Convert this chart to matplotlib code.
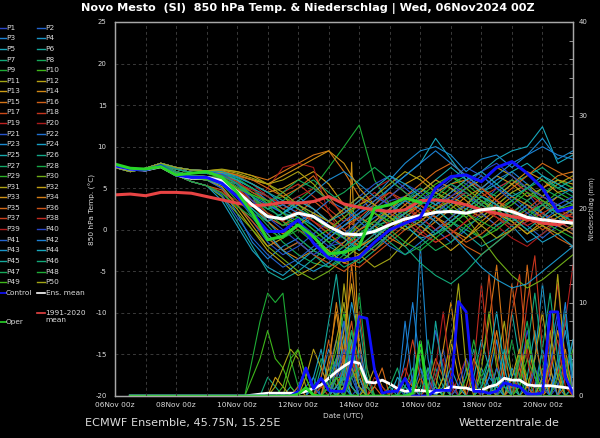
import numpy as np
import matplotlib
matplotlib.use("Agg")
import matplotlib.pyplot as plt
from matplotlib.colors import LinearSegmentedColormap
from matplotlib.lines import Line2D

plt.rcParams['font.family'] = ['DejaVu Sans']
plt.rcParams['axes.unicode_minus'] = False

# ---------------- data ----------------
title = "Novo Mesto  (SI)  850 hPa Temp. & Niederschlag | Wed, 06Nov2024 00Z"
x_tick_days = [0, 2, 4, 6, 8, 10, 12, 14]
x_tick_labels = ["06Nov 00z", "08Nov 00z", "10Nov 00z", "12Nov 00z",
                 "14Nov 00z", "16Nov 00z", "18Nov 00z", "20Nov 00z"]
member_names = [f"P{i}" for i in range(1, 51)]

# temperature, 12-hourly, day 0 .. day 15
ens_mean_temp = [7.7, 7.3, 7.2, 7.6, 6.6, 6.2, 6.3, 5.9, 4.6, 3.0, 1.6, 1.3, 2.0, 1.6, 0.4, -0.5,
                 -0.6, -0.2, 0.6, 1.3, 1.7, 2.1, 2.2, 2.0, 2.4, 2.6, 2.2, 1.5, 1.2, 1.0, 0.8]
clim_temp = [4.2, 4.3, 4.1, 4.5, 4.5, 4.4, 4.0, 3.6, 3.2, 2.9, 3.0, 3.3, 3.2, 3.4, 4.0, 3.1,
             2.7, 2.4, 2.2, 2.4, 3.5, 3.6, 3.4, 3.0, 2.4, 2.0, 1.6, 1.3, 0.8, 0.6, 1.1]
control_temp = [7.7, 7.3, 7.2, 7.7, 6.6, 6.3, 6.3, 5.6, 4.0, 2.0, -0.2, -0.2, 1.2, -1.6, -3.4, -3.7,
                -3.3, -1.5, 0.0, 0.8, 1.5, 5.0, 6.4, 6.6, 5.8, 7.5, 8.2, 6.8, 5.0, 2.2, 2.7]
oper_temp = [7.9, 7.4, 7.3, 7.6, 6.6, 6.8, 7.0, 6.3, 4.5, 2.0, -1.2, -0.8, 0.6, -0.8, -2.9, -2.7,
             -2.0, 2.6, 3.0, 3.8, 3.3]

member_temp = [
    [7.7, 7.2, 7.3, 7.8, 7.0, 6.5, 6.4, 5.8, 4.5, 3.0, 1.5, 0.5, 1.0, -0.5, -2.0, -1.5, 0.5, 2.0, 3.5, 4.0, 3.0, 4.5, 5.5, 4.0, 3.0, 5.0, 6.0, 4.5, 2.0, 1.0, 2.5],
    [7.6, 7.1, 7.2, 7.9, 7.3, 6.9, 6.8, 6.5, 6.0, 5.0, 3.0, 2.0, 3.0, 2.0, 0.5, -1.0, -2.5, -1.0, 1.0, 2.5, 1.5, 0.0, -1.5, 0.0, 2.0, 3.5, 2.0, 0.5, -1.0, 0.5, 2.0],
    [7.8, 7.3, 7.1, 7.6, 6.8, 6.2, 6.0, 5.0, 2.0, -1.5, -3.5, -2.0, -1.0, -2.5, -3.5, -2.0, 0.0, 1.5, 2.5, 4.0, 5.0, 3.5, 2.0, 3.0, 4.5, 6.0, 7.0, 5.5, 3.0, 4.0, 5.0],
    [7.7, 7.2, 7.3, 7.8, 7.0, 6.5, 6.4, 6.0, 5.5, 4.0, 2.5, 3.0, 4.0, 2.5, 1.0, 0.0, -1.0, 0.5, 2.5, 1.0, -0.5, 1.5, 3.0, 4.5, 3.0, 2.0, 0.5, -1.5, -0.5, 1.0, 0.0],
    [7.5, 7.0, 7.4, 8.0, 7.5, 7.2, 7.1, 6.8, 6.0, 4.0, 1.0, -1.0, 0.5, 1.5, 0.0, -1.0, 1.0, 3.0, 5.0, 6.5, 8.0, 11.0, 8.5, 6.0, 7.0, 8.5, 9.5, 10.0, 12.4, 8.0, 9.0],
    [7.7, 7.3, 7.2, 7.7, 6.6, 5.8, 5.3, 4.0, 1.0, -2.0, -5.0, -6.0, -5.0, -3.5, -2.0, -3.0, -1.5, 0.5, 1.0, 2.0, 3.5, 2.5, 1.0, -0.5, -2.0, -1.0, 0.5, 2.0, 3.0, 1.5, 0.5],
    [7.6, 7.1, 7.2, 7.9, 7.3, 6.9, 6.8, 6.6, 5.8, 4.5, 3.5, 2.0, 1.5, 0.0, -1.5, -3.0, -4.0, -2.5, -0.5, 1.5, 3.0, 4.5, 5.5, 6.5, 5.0, 4.0, 5.5, 6.5, 7.5, 6.0, 5.0],
    [7.7, 7.2, 7.3, 7.8, 7.0, 6.5, 6.4, 6.2, 4.5, 2.5, 0.5, -1.5, -3.0, -4.0, -4.5, -3.0, -1.0, 0.0, 1.5, 0.5, -1.0, -2.5, -1.5, 0.5, 1.5, 3.0, 4.5, 3.5, 2.0, 1.0, 2.0],
    [7.8, 7.3, 7.1, 7.6, 6.8, 6.2, 6.0, 5.5, 3.5, 2.0, 1.0, 2.0, 3.5, 5.0, 7.5, 10.0, 12.6, 6.0, 3.0, 2.0, 3.5, 5.0, 6.5, 5.5, 4.0, 2.5, 3.5, 5.0, 4.0, 6.0, 5.0],
    [7.7, 7.2, 7.3, 7.8, 7.0, 6.5, 6.4, 6.5, 5.5, 4.5, 3.5, 4.0, 3.0, 1.5, 0.0, -1.0, 0.5, 2.0, 1.0, 0.0, 1.5, 3.0, 2.0, 0.5, -1.0, 0.0, 1.5, 3.0, 2.0, 0.5, 1.0],
    [7.5, 7.0, 7.4, 8.0, 7.5, 7.2, 7.1, 7.0, 6.5, 6.0, 5.5, 4.0, 2.5, 1.0, -0.5, -2.0, -3.0, -4.5, -3.5, -1.5, 0.5, 2.0, 3.5, 2.5, 1.5, 3.0, 4.5, 5.5, 4.0, 3.0, 2.0],
    [7.7, 7.3, 7.2, 7.7, 6.6, 5.8, 5.3, 4.5, 2.5, 0.0, -2.5, -4.0, -5.5, -4.5, -3.0, -1.5, 0.0, 1.0, 2.5, 4.0, 3.0, 1.5, 0.5, 2.0, 3.5, 2.5, 1.0, -0.5, 0.5, 1.5, 2.5],
    [7.6, 7.1, 7.2, 7.9, 7.3, 6.9, 6.8, 6.8, 6.5, 5.5, 4.5, 5.0, 6.0, 7.0, 5.5, 3.0, 1.0, 2.5, 4.0, 5.5, 6.5, 5.0, 4.0, 3.0, 5.0, 6.5, 5.5, 4.0, 5.0, 6.0, 5.5],
    [7.7, 7.2, 7.3, 7.8, 7.0, 6.5, 6.4, 6.0, 4.0, 2.0, -0.5, -2.5, -3.5, -2.5, -1.0, 0.5, 1.5, 0.5, -1.0, -2.0, -0.5, 1.0, 2.5, 4.0, 5.0, 3.5, 2.0, 1.0, 2.5, 4.0, 3.0],
    [7.5, 7.0, 7.4, 8.0, 7.5, 7.2, 7.1, 7.2, 7.0, 6.5, 6.0, 7.0, 8.0, 9.0, 9.5, 7.0, 4.0, 2.0, 0.5, 1.5, 3.0, 4.5, 5.5, 6.0, 4.5, 3.0, 2.0, 3.5, 5.0, 6.5, 7.0],
    [7.8, 7.3, 7.1, 7.6, 6.8, 6.2, 6.0, 5.5, 4.5, 3.0, 1.5, 0.5, 2.0, 3.5, 2.0, 0.0, -1.5, -2.5, -1.0, 0.5, 2.0, 1.0, -0.5, -2.0, -3.0, -1.5, 0.0, 1.5, 0.5, -1.0, -2.0],
    [7.6, 7.1, 7.2, 7.9, 7.3, 6.9, 6.8, 6.5, 5.5, 3.5, 2.0, 1.0, 0.0, -1.0, -2.5, -4.0, -4.5, -3.0, -1.5, 0.0, 1.0, 2.5, 4.0, 5.0, 3.5, 2.0, 1.0, 2.5, 4.0, 3.0, 2.0],
    [7.7, 7.2, 7.3, 7.8, 7.0, 6.5, 6.4, 6.3, 5.0, 3.5, 3.0, 4.5, 5.5, 4.0, 2.5, 1.0, 2.0, 3.5, 4.5, 3.0, 1.5, 0.0, 1.0, 2.5, 4.0, 5.0, 6.0, 4.5, 3.0, 2.0, 1.5],
    [7.5, 7.0, 7.4, 8.0, 7.5, 7.2, 7.1, 7.0, 6.5, 5.5, 4.0, 3.0, 2.0, 1.0, 0.0, 1.5, 3.0, 4.5, 3.0, 1.5, 0.0, -1.5, -0.5, 1.0, 2.0, 3.0, 1.5, 0.5, 1.5, 0.5, 1.0],
    [7.7, 7.3, 7.2, 7.7, 6.6, 5.8, 5.3, 4.5, 3.5, 3.0, 5.0, 7.5, 8.0, 7.5, 2.0, -1.0, -2.0, -0.5, 1.0, 2.5, 1.5, 0.0, 1.5, 3.0, 2.0, 0.5, -1.0, -2.0, -0.5, 1.0, 2.0],
    [7.8, 7.3, 7.1, 7.6, 6.8, 6.2, 6.0, 5.0, 3.0, 1.0, -1.5, -3.0, -2.0, -0.5, 1.0, 2.5, 4.0, 5.5, 6.5, 5.0, 3.5, 4.5, 6.0, 7.5, 6.5, 5.0, 4.0, 2.5, 1.5, 3.0, 4.0],
    [7.7, 7.2, 7.3, 7.8, 7.0, 6.5, 6.4, 6.0, 5.0, 4.0, 3.0, 2.0, 1.0, 2.0, 3.5, 2.5, 1.0, -0.5, -2.0, -3.0, -1.5, 0.0, 1.5, 3.0, 2.0, 0.5, 1.5, 3.0, 2.0, 0.5, -0.5],
    [7.6, 7.1, 7.2, 7.9, 7.3, 6.9, 6.8, 6.5, 6.0, 5.0, 3.5, 2.0, 3.0, 4.5, 6.0, 7.0, 5.5, 4.0, 6.0, 8.0, 9.5, 10.0, 9.0, 7.0, 8.5, 9.0, 7.5, 9.0, 11.0, 8.5, 9.5],
    [7.7, 7.3, 7.2, 7.7, 6.6, 5.8, 5.3, 3.5, 0.5, -2.5, -4.5, -5.5, -4.0, -2.5, -1.0, 0.5, 2.0, 3.0, 2.0, 0.5, -1.0, -0.5, 1.0, 2.5, 4.0, 3.0, 1.5, 0.0, -1.5, -0.5, -2.0],
    [7.5, 7.0, 7.4, 8.0, 7.5, 7.2, 7.1, 6.8, 6.0, 5.0, 4.0, 2.5, 1.5, 0.5, -1.0, -2.0, -0.5, 1.0, 2.5, 3.5, 4.5, 6.0, 7.5, 6.0, 4.5, 5.5, 7.0, 8.0, 6.5, 5.0, 6.0],
    [7.7, 7.2, 7.3, 7.8, 7.0, 6.5, 6.4, 5.8, 4.0, 1.5, -1.0, -2.5, -1.5, -3.0, -4.5, -3.5, -2.0, -0.5, 0.5, 2.0, 1.0, -0.5, 0.5, 2.0, 3.5, 2.5, 1.0, 2.0, 3.5, 2.0, 1.0],
    [7.8, 7.3, 7.1, 7.6, 6.8, 6.2, 6.0, 5.8, 4.5, 3.5, 2.5, 3.5, 5.0, 6.0, 4.5, 3.0, 1.5, 0.0, -1.5, -3.0, -2.0, -0.5, 1.0, 0.0, -1.0, 0.5, 2.0, 3.5, 5.0, 4.0, 3.0],
    [7.6, 7.1, 7.2, 7.9, 7.3, 6.9, 6.8, 6.7, 6.2, 5.0, 3.0, 1.0, -1.0, -2.5, -3.5, -2.5, -1.0, 0.5, 2.0, 3.5, 5.0, 4.0, 2.5, 1.5, 3.0, 4.5, 6.0, 5.0, 3.5, 2.5, 3.5],
    [7.7, 7.2, 7.3, 7.8, 7.0, 6.5, 6.4, 6.4, 5.5, 4.0, 2.0, 0.5, 1.5, 0.0, -1.5, -0.5, 1.0, 2.5, 1.5, 0.5, 2.0, 3.5, 5.0, 4.0, 2.5, 1.5, 0.5, 2.0, 3.0, 4.5, 3.5],
    [7.7, 7.3, 7.2, 7.7, 6.6, 5.8, 5.3, 4.0, 2.0, 0.0, -2.0, -3.5, -5.0, -6.0, -5.0, -3.5, -2.0, -1.0, 0.5, 2.0, 3.0, 4.5, 3.0, 1.5, -1.0, -3.5, -5.5, -7.0, -6.0, -4.5, -3.0],
    [7.5, 7.0, 7.4, 8.0, 7.5, 7.2, 7.1, 7.3, 7.0, 6.5, 5.5, 6.0, 7.0, 5.5, 3.5, 2.0, 3.0, 4.0, 5.5, 7.0, 6.0, 4.5, 3.5, 5.0, 6.0, 7.5, 6.5, 5.0, 4.0, 5.5, 6.5],
    [7.8, 7.3, 7.1, 7.6, 6.8, 6.2, 6.0, 5.2, 3.0, 0.5, -2.0, -1.0, 0.5, -1.0, -2.5, -4.0, -3.0, -1.5, 0.0, 1.5, 0.5, -1.0, -2.5, -1.0, 0.5, 2.0, 1.0, -0.5, 1.0, 2.0, 0.5],
    [7.6, 7.1, 7.2, 7.9, 7.3, 6.9, 6.8, 6.9, 6.6, 6.0, 5.5, 6.5, 7.5, 8.5, 9.5, 8.0, 5.0, 3.0, 1.5, 3.0, 4.5, 6.0, 5.0, 3.5, 2.0, 4.0, 5.5, 7.0, 6.0, 4.5, 5.0],
    [7.7, 7.2, 7.3, 7.8, 7.0, 6.5, 6.4, 6.2, 5.0, 3.0, 1.0, -0.5, 0.5, 2.0, 1.0, -0.5, -2.0, -1.0, 0.5, 2.0, 3.0, 1.5, 0.0, -1.0, 1.0, 2.5, 4.0, 3.0, 1.5, 0.5, -0.5],
    [7.5, 7.0, 7.4, 8.0, 7.5, 7.2, 7.1, 7.1, 6.6, 6.0, 5.0, 4.0, 5.0, 6.5, 4.0, 1.5, 0.0, 1.0, 2.5, 4.0, 5.5, 7.0, 8.0, 6.5, 5.0, 3.5, 5.0, 6.5, 8.0, 7.0, 6.0],
    [7.7, 7.3, 7.2, 7.7, 6.6, 5.8, 5.3, 4.8, 3.0, 1.0, -1.0, -2.5, -1.5, -3.0, -4.0, -5.0, -3.5, -2.0, -0.5, 1.0, 2.5, 1.5, 0.0, -1.5, -0.5, 1.0, 2.5, 1.5, 0.0, 1.0, 2.0],
    [7.6, 7.1, 7.2, 7.9, 7.3, 6.9, 6.8, 6.6, 5.8, 4.5, 3.5, 2.5, 3.5, 2.5, 1.0, 0.0, 1.5, 3.0, 4.5, 3.5, 2.0, 3.0, 4.5, 6.0, 5.0, 3.5, 2.5, 1.0, 2.0, 3.0, 2.0],
    [7.8, 7.3, 7.1, 7.6, 6.8, 6.2, 6.0, 5.6, 4.8, 3.5, 2.0, 1.0, 2.5, 1.0, -0.5, -2.0, -1.0, 0.5, 2.0, 1.0, -0.5, -1.5, -0.5, 1.0, 2.5, 1.5, 0.0, 1.0, 2.0, 1.0, 0.0],
    [7.7, 7.2, 7.3, 7.8, 7.0, 6.5, 6.4, 6.4, 5.6, 4.8, 4.0, 3.0, 4.0, 5.0, 3.5, 2.0, 3.5, 5.0, 6.0, 4.5, 3.0, 2.0, 3.5, 4.5, 3.0, 1.5, 0.5, 2.0, 3.5, 2.5, 1.5],
    [7.5, 7.0, 7.4, 8.0, 7.5, 7.2, 7.1, 6.7, 5.5, 3.5, 1.5, 0.0, -1.5, -3.0, -2.0, -0.5, 1.0, 2.5, 4.0, 5.5, 4.5, 3.0, 4.0, 5.5, 7.0, 8.0, 6.5, 5.0, 4.0, 3.0, 4.0],
    [7.7, 7.3, 7.2, 7.7, 6.6, 5.8, 5.3, 4.2, 1.5, -1.0, -3.0, -4.5, -3.5, -2.0, -0.5, 1.0, 2.5, 4.0, 3.0, 1.5, 0.5, 2.0, 3.5, 5.0, 6.5, 5.0, 3.5, 2.0, 1.0, 2.5, 3.5],
    [7.6, 7.1, 7.2, 7.9, 7.3, 6.9, 6.8, 6.8, 6.3, 5.5, 4.5, 3.0, 2.0, 0.5, -1.0, 0.5, 2.0, 3.5, 5.0, 6.5, 8.0, 9.5, 8.0, 6.5, 5.0, 6.5, 8.0, 9.0, 10.0, 9.0, 8.5],
    [7.7, 7.2, 7.3, 7.8, 7.0, 6.5, 6.4, 6.0, 4.5, 2.0, -0.5, -2.5, -4.0, -5.0, -4.0, -2.5, -1.0, 0.5, 2.0, 3.5, 2.5, 1.0, -0.5, -2.5, -4.5, -6.0, -7.0, -6.5, -5.0, -3.5, -2.0],
    [7.8, 7.3, 7.1, 7.6, 6.8, 6.2, 6.0, 5.4, 4.0, 2.5, 1.0, 2.0, 3.5, 2.5, 1.0, 2.0, 3.5, 5.0, 6.5, 5.5, 4.0, 3.0, 4.5, 6.0, 7.0, 5.5, 4.0, 5.0, 6.5, 5.5, 4.5],
    [7.5, 7.0, 7.4, 8.0, 7.5, 7.2, 7.1, 7.0, 6.4, 5.5, 4.5, 3.5, 2.5, 1.5, 0.5, -1.0, -2.5, -1.0, 0.5, 2.0, 3.5, 2.5, 1.0, 2.5, 4.0, 3.0, 1.5, 0.0, 1.5, 3.0, 2.0],
    [7.6, 7.1, 7.2, 7.9, 7.3, 6.9, 6.8, 6.5, 5.6, 4.0, 2.5, 1.5, 0.5, -1.5, -3.0, -4.5, -3.5, -2.0, -0.5, -2.0, -4.0, -5.5, -6.5, -5.0, -3.0, -1.5, 0.0, 1.5, 3.0, 2.0, 1.0],
    [7.7, 7.2, 7.3, 7.8, 7.0, 6.5, 6.4, 6.3, 5.2, 4.2, 3.2, 4.5, 6.0, 5.0, 3.5, 4.5, 6.0, 7.5, 6.0, 4.5, 3.0, 4.0, 5.5, 4.5, 3.0, 2.0, 3.5, 5.0, 6.0, 5.0, 4.0],
    [7.7, 7.3, 7.2, 7.7, 6.6, 5.8, 5.3, 4.4, 2.8, 1.5, 0.0, -1.0, 0.0, -1.5, -3.0, -2.0, -0.5, 1.0, 0.0, -1.5, -2.5, -1.0, 0.5, 2.0, 1.0, 0.0, 1.5, 2.5, 1.0, 0.0, -1.0],
    [7.8, 7.3, 7.1, 7.6, 6.8, 6.2, 6.0, 5.7, 5.0, 4.2, 3.5, 2.0, 0.5, -1.0, 0.0, 1.5, 3.0, 2.0, 1.0, 2.5, 4.0, 5.5, 6.5, 5.0, 3.5, 2.0, 3.0, 4.5, 3.5, 2.5, 3.0],
    [7.5, 7.0, 7.4, 8.0, 7.5, 7.2, 7.1, 7.2, 6.8, 6.2, 5.5, 4.5, 3.0, 2.0, 1.0, 2.5, 4.0, 3.0, 1.5, 0.0, 1.0, 2.5, 3.5, 2.0, 0.5, -1.0, 0.0, 1.5, 0.5, -0.5, 0.5],
]

# precipitation (mm), 6-hourly; thick series from day 0.5, members from day 4.0
ens_mean_precip = [0, 0, 0, 0,  0, 0, 0, 0,  0, 0, 0, 0,  0, 0, 0, 0,
                   0.1, 0.2, 0.3, 0.3, 0.3, 0.3, 0.3, 0.5, 0.8, 1.2, 1.9, 2.6, 3.2, 3.7, 3.5,
                   1.5, 1.4, 1.7, 1.3, 0.8, 0.5, 0.6, 0.6, 0.5, 0.4, 0.6, 1.0, 0.9, 0.85, 0.6, 0.6,
                   1.0, 1.2, 1.9, 1.7, 1.7, 1.2, 1.1, 1.1, 1.1, 1.0, 0.9, 0.8]
control_precip = [0, 0, 0, 0, 0, 0, 0, 0, 0, 0, 0, 0, 0, 0, 0, 0, 0, 0, 0, 0, 0, 0,
                  0.5, 3.0, 0.8, 1.9, 0.6, 0.5, 0.5, 3.5, 8.5, 8.3, 2.8, 0.3, 0.5, 0.5, 1.9,
                  0, 0, 0, 0.6, 0.6, 0.6, 10.1, 9.0, 0.5, 0.5, 0.3, 0.5, 1.4, 1.2, 1.0, 0.2, 0.2,
                  0.3, 9.0, 9.0, 2.0, 0.3]
oper_precip = [0, 0, 0, 0, 0, 0, 0, 0, 0, 0, 0, 0, 0, 0, 0, 0, 0, 0, 0, 0, 0, 0,
               0.2, 0.9, 0.1, 0, 0, 0, 0, 0, 0, 0, 0, 0, 0, 0, 0, 0.3, 5.8, 0.0]

member_precip = [
    [0,0,0,0, 0,0,0,0, 0,0,0,1, 3,6,2,0, 1,0,0,0, 0,0,0,1, 0,0,2,5, 1,0,0,0, 1,3,0,0, 0,2,7,3, 0,0,1,4, 1],
    [0,0,0,0, 0,0,0,0, 0,1,2,0, 1,4,8,3, 0,0,0,0, 0,1,0,0, 0,1,0,0, 0,0,3,1, 0,0,0,0, 2,4,1,0, 0,5,9,2, 0],
    [0,0,0,0, 0,0,0,0, 0,0,0,2, 5,3,1,0, 0,2,0,0, 0,0,4,10, 3,0,0,0, 0,0,0,0, 0,2,6,1, 0,0,0,0, 1,3,0,0, 1],
    [0,0,0,0, 0,0,0,0, 0,0,0,0, 1,2,4,10, 6,1,0,0, 0,0,0,0, 0,0,1,0, 0,0,0,0, 3,1,0,0, 0,0,0,4, 12,5,1,0, 0],
    [0,0,0,0, 0,0,0,0, 1,3,1,0, 0,0,2,5, 2,0,0,0, 0,0,0,0, 0,0,0,0, 0,0,0,2, 6,3,0,0, 1,0,0,0, 0,0,2,8, 3],
    [0,0,0,0, 0,0,0,1, 0,0,0,3, 8,13,6,1, 0,0,0,0, 1,0,0,0, 0,0,0,0, 2,0,0,0, 0,0,0,3, 9,4,0,0, 0,0,0,0, 0],
    [0,0,0,0, 2,1,0,0, 0,0,0,0, 0,1,3,7, 2,0,0,0, 0,0,0,0, 0,0,3,1, 0,0,0,0, 0,0,1,0, 0,2,5,11, 4,0,0,0, 1],
    [0,0,0,0, 0,0,0,0, 0,0,1,4, 2,0,0,0, 0,0,0,0, 0,0,0,0, 1,6,2,0, 0,0,0,0, 0,0,0,1, 0,0,0,0, 2,0,0,3, 6],
    [0,0,4,8, 11,10,11,4, 1,0,0,0, 0,2,1,0, 0,0,0,0, 0,0,0,0, 0,0,0,0, 0,0,0,0, 2,4,1,0, 0,0,0,1, 3,0,0,0, 0],
    [0,0,2,4, 7,4,3,1, 0,0,0,1, 3,1,0,0, 0,0,0,0, 0,0,0,0, 0,3,1,0, 0,0,0,0, 0,0,0,0, 0,5,2,0, 0,0,0,2, 5],
    [0,0,0,0, 0,1,3,5, 4,1,0,0, 2,6,10,4, 1,0,0,0, 0,0,0,0, 0,0,0,0, 0,1,0,0, 0,0,3,8, 2,0,0,0, 0,0,0,0, 0],
    [0,0,0,0, 0,0,0,0, 0,2,5,3, 1,0,0,0, 0,0,0,0, 0,0,0,0, 0,0,0,2, 0,0,0,0, 0,0,0,0, 0,0,1,4, 9,3,0,0, 0],
    [0,0,0,0, 0,2,1,0, 0,0,0,0, 0,3,7,12, 5,1,0,0, 0,0,0,0, 0,0,0,0, 0,0,0,0, 0,1,0,0, 0,2,6,2, 0,0,0,0, 0],
    [0,0,0,0, 0,0,0,0, 0,0,0,0, 4,9,3,0, 0,0,0,0, 0,0,0,0, 0,0,1,5, 10,4,0,0, 0,0,0,0, 0,0,0,0, 0,2,7,3, 0],
    [0,0,0,0, 0,0,0,0, 0,0,0,0, 0,2,5,14, 6,0,0,0, 0,0,0,0, 0,0,0,0, 0,0,0,0, 3,8,14,5, 0,0,0,0, 0,0,0,4, 1],
    [0,0,0,0, 0,0,0,0, 1,0,0,2, 6,2,0,0, 0,0,1,0, 0,0,0,0, 0,0,0,0, 0,0,0,0, 0,0,0,4, 12,6,1,0, 0,0,0,0, 0],
    [0,0,0,0, 0,0,0,0, 0,0,0,0, 0,0,2,4, 1,0,0,0, 0,0,0,0, 0,0,0,0, 0,0,0,0, 5,13,4,0, 0,0,0,0, 0,0,0,0, 0],
    [0,0,0,0, 0,0,0,0, 0,0,0,1, 0,0,0,3, 9,3,0,0, 0,0,0,0, 0,0,0,0, 0,0,0,0, 0,0,0,0, 0,3,10,15, 5,0,0,0, 0],
    [0,0,0,0, 0,0,0,0, 0,0,0,0, 0,0,0,0, 0,0,0,0, 0,1,3,1, 0,0,0,0, 0,2,4,1, 0,0,0,0, 0,0,0,0, 2,6,12,4, 0],
    [0,0,0,0, 0,0,0,0, 0,0,0,0, 0,0,1,6, 3,0,0,0, 0,0,0,0, 0,0,2,4, 0,0,0,0, 1,0,0,0, 0,2,5,1, 0,0,0,0, 0],
    [0,0,0,0, 0,0,0,0, 0,0,1,0, 0,1,0,2, 5,1,0,0, 0,0,0,0, 0,2,7,3, 0,0,0,0, 0,0,0,0, 0,0,0,0, 0,3,8,2, 0],
    [0,0,0,0, 0,0,0,0, 0,0,0,0, 2,4,1,0, 0,0,0,0, 0,0,0,0, 3,1,0,0, 0,0,0,0, 0,0,0,0, 0,0,0,1, 5,2,0,0, 0],
    [0,0,0,0, 0,0,0,0, 0,0,0,0, 0,0,0,0, 0,0,0,0, 0,0,0,1, 16,4,0,0, 0,0,0,0, 0,0,2,0, 0,0,0,0, 0,0,0,2, 6],
    [0,0,0,0, 0,0,0,0, 0,0,2,5, 1,0,0,0, 0,0,0,0, 0,0,1,0, 0,0,0,0, 0,0,0,0, 0,0,0,0, 3,1,0,0, 0,0,0,0, 0],
    [0,0,0,0, 0,0,0,0, 0,0,0,0, 0,2,6,3, 0,0,0,0, 0,0,0,0, 0,0,0,0, 0,0,0,0, 0,0,0,0, 0,0,2,7, 1,0,0,0, 0],
    [0,0,0,0, 0,0,0,0, 0,0,0,0, 0,0,1,3, 8,2,0,0, 0,0,0,0, 0,0,0,0, 0,0,2,5, 1,0,0,0, 0,0,0,0, 0,0,3,9, 2],
    [0,0,0,0, 0,0,0,0, 0,0,0,0, 1,4,2,0, 0,0,0,0, 1,3,0,0, 0,0,0,0, 0,0,0,0, 0,0,0,0, 0,0,0,0, 0,0,0,0, 0],
    [0,0,0,0, 0,0,0,0, 0,0,0,0, 0,0,0,4, 11,3,0,0, 0,0,0,0, 0,0,0,0, 0,0,0,0, 0,0,0,2, 6,2,0,0, 0,0,0,0, 0],
    [0,0,0,0, 0,0,0,0, 0,0,0,0, 2,5,9,3, 0,0,0,0, 0,0,0,0, 0,0,0,0, 0,0,0,0, 0,0,0,0, 0,1,4,2, 0,0,0,0, 0],
    [0,0,0,0, 0,0,0,3, 5,2,0,0, 0,0,0,0, 0,0,0,0, 0,0,0,0, 0,0,0,0, 0,0,0,0, 3,9,3,0, 0,0,0,0, 0,0,0,0, 0],
    [0,0,0,0, 0,0,0,0, 0,0,0,0, 0,3,12,5, 1,0,0,0, 0,0,0,0, 0,0,0,0, 0,0,0,0, 0,0,0,0, 0,0,0,0, 0,4,13,3, 0],
    [0,0,0,0, 0,0,0,0, 0,0,0,0, 0,0,0,0, 0,1,3,1, 0,0,0,0, 0,0,0,2, 6,2,0,0, 0,0,0,0, 2,5,1,0, 0,0,0,0, 0],
    [0,0,0,0, 0,0,0,0, 0,0,0,0, 0,0,2,25, 3,0,0,0, 0,0,0,0, 0,0,0,0, 0,0,1,4, 2,0,0,0, 0,0,0,0, 0,1,3,0, 0],
    [0,0,0,0, 0,0,0,0, 0,0,0,0, 3,10,4,1, 0,0,0,0, 0,0,2,1, 0,0,0,0, 0,0,0,0, 0,3,7,2, 0,0,0,0, 0,0,2,5, 0],
    [0,0,0,0, 0,0,0,0, 0,0,0,0, 0,0,0,0, 0,0,1,3, 0,0,0,0, 2,0,0,0, 0,0,0,0, 0,0,0,0, 0,4,14,6, 2,0,0,0, 0],
    [0,0,0,0, 0,0,0,0, 0,0,0,0, 0,2,4,8, 2,0,0,0, 0,0,0,0, 0,1,4,2, 0,0,0,0, 0,0,0,0, 1,3,1,0, 0,0,0,1, 0],
    [0,0,0,0, 0,0,0,0, 0,0,0,0, 0,1,3,1, 0,0,0,0, 0,0,2,6, 2,0,0,0, 0,0,0,0, 0,0,0,2, 9,13,4,0, 0,0,0,0, 0],
    [0,0,0,0, 0,0,0,0, 0,0,0,0, 0,0,1,4, 2,0,0,0, 0,0,0,0, 0,0,0,0, 0,0,0,3, 12,4,0,0, 0,0,0,0, 0,3,6,1, 0],
    [0,0,0,0, 0,0,0,0, 0,0,0,0, 0,0,0,0, 0,0,2,1, 0,0,0,0, 0,0,3,9, 2,0,0,0, 0,0,0,0, 0,0,0,0, 0,0,2,8, 14],
    [0,0,0,0, 0,0,0,0, 0,0,0,0, 0,2,5,3, 0,0,0,0, 0,0,0,0, 0,0,0,0, 0,1,4,2, 0,0,0,2, 0,0,0,3, 1,0,0,0, 0],
    [0,0,0,0, 0,0,0,0, 0,0,0,0, 0,3,8,2, 0,0,0,0, 0,0,0,2, 5,2,0,0, 0,0,0,0, 0,0,3,1, 0,0,0,0, 0,0,0,0, 0],
    [0,0,0,0, 0,0,0,0, 0,0,0,0, 0,0,3,1, 0,0,0,0, 0,0,8,1, 0,0,0,0, 0,0,0,0, 0,2,1,0, 0,0,0,0, 0,0,4,10, 0],
    [0,0,0,0, 0,0,0,0, 0,0,0,0, 0,0,1,5, 2,0,0,0, 0,0,0,0, 0,0,0,1, 3,1,0,0, 0,0,0,0, 0,0,0,0, 0,0,3,7, 2],
    [0,0,0,0, 0,0,0,0, 0,0,0,0, 0,1,2,0, 0,0,0,0, 0,2,1,0, 0,0,0,0, 0,0,0,0, 1,4,9,3, 0,0,0,0, 2,0,0,0, 0],
    [0,0,0,0, 0,0,0,0, 0,0,0,0, 0,0,3,6, 1,0,0,0, 0,0,0,0, 0,0,8,2, 0,0,0,0, 0,0,1,5, 2,0,0,0, 0,0,0,0, 0],
    [0,0,0,0, 0,0,0,0, 0,0,0,0, 0,2,2,1, 0,0,0,0, 0,0,0,0, 0,3,1,0, 0,0,0,0, 1,3,0,0, 0,0,0,0, 5,11,4,0, 0],
    [0,0,0,0, 0,0,0,0, 0,0,0,0, 0,0,2,7, 4,0,0,0, 0,0,1,3, 0,0,0,0, 0,0,0,0, 0,0,2,1, 0,4,8,2, 0,0,0,0, 0],
    [0,0,0,0, 0,0,0,0, 0,0,0,0, 0,0,0,2, 3,1,0,0, 0,0,0,0, 0,0,0,0, 0,0,2,6, 2,0,0,0, 0,0,0,0, 0,0,2,4, 0],
    [0,0,0,0, 0,0,1,4, 5,2,0,0, 1,2,0,0, 0,0,0,0, 0,0,0,0, 0,0,0,0, 0,0,0,0, 0,0,0,0, 0,1,6,3, 0,0,0,0, 0],
    [0,0,0,0, 0,0,0,0, 0,0,0,0, 0,0,1,3, 1,0,0,0, 0,0,0,0, 0,0,0,0, 5,12,3,0, 0,0,0,0, 0,0,0,0, 2,7,2,0, 0],
]

for i, row in enumerate(member_temp):
    assert len(row) == 31, f"temp P{i+1} has {len(row)}"
for i, row in enumerate(member_precip):
    assert len(row) == 45, f"precip P{i+1} has {len(row)}"
assert len(ens_mean_precip) == 59, len(ens_mean_precip)
assert len(control_precip) == 59, len(control_precip)
assert len(oper_precip) == 40, len(oper_precip)

# ---------------- style ----------------
W, H = 600, 438
BG = 'black'
TXT = '#dcdcdc'
SPINE = '#a8a8a8'
GRID = '#3a3a3a'
C_CONTROL = '#1010ff'
C_OPER = '#28d428'
C_MEAN = 'white'
C_CLIM = '#e84444'

member_cmap = LinearSegmentedColormap.from_list('ens', [
    (0.00, '#2a46c8'), (0.10, '#1c80d4'), (0.20, '#18a8c0'), (0.30, '#12a87c'),
    (0.40, '#18a83c'), (0.46, '#38b81a'), (0.51, '#a0a414'), (0.61, '#cc9e14'),
    (0.72, '#d47416'), (0.82, '#cc4a18'), (0.92, '#c02222'), (1.00, '#a01818')])
member_colors = [member_cmap(((i) / 19.5) % 1.0) for i in range(50)]

def fx(px):
    return px / W

def fy(py):
    return 1 - py / H

fig = plt.figure(figsize=(W / 100, H / 100), dpi=100, facecolor=BG)
ax = fig.add_axes([fx(115), fy(396), (573 - 115) / W, (396 - 22) / H])
ax2 = ax.twinx()
ax.set_zorder(2)
ax.patch.set_visible(False)
ax2.set_zorder(1)
ax2.patch.set_visible(True)
ax2.patch.set_facecolor(BG)

t_temp = 0.5 * np.arange(31)
t_member_precip = 4.0 + 0.25 * np.arange(45)
t_precip = 0.5 + 0.25 * np.arange(59)

# precipitation (right axis, drawn underneath)
for i in range(50):
    ax2.plot(t_member_precip, member_precip[i], color=member_colors[i], lw=0.8)
ax2.plot(t_precip, ens_mean_precip, color=C_MEAN, lw=2.0)
ax2.plot(t_precip, control_precip, color=C_CONTROL, lw=2.0)
ax2.plot(t_precip[:len(oper_precip)], oper_precip, color=C_OPER, lw=2.0)

# temperature (left axis, on top)
for i in range(50):
    ax.plot(t_temp, member_temp[i], color=member_colors[i], lw=0.8)
ax.plot(t_temp, clim_temp, color=C_CLIM, lw=2.2)
ax.plot(t_temp, ens_mean_temp, color=C_MEAN, lw=2.2)
ax.plot(t_temp, control_temp, color=C_CONTROL, lw=2.2)
ax.plot(t_temp[:len(oper_temp)], oper_temp, color=C_OPER, lw=2.2)

ax.set_xlim(0, 15)
ax.set_ylim(-20, 25)
ax2.set_ylim(0, 40)
ax.set_xticks(x_tick_days)
ax.set_xticklabels(x_tick_labels)
ax.set_xticks(np.arange(1, 15, 2), minor=True)
ax.set_yticks(np.arange(-20, 26, 5))
ax2.set_yticks(np.arange(0, 41, 10))
ax2.set_yticks(np.arange(0, 41, 2), minor=True)

ax.grid(True, which='both', axis='x', color=GRID, ls=(0, (3, 3)), lw=0.7)
ax.grid(True, which='major', axis='y', color=GRID, ls=(0, (3, 3)), lw=0.7)

ax.tick_params(axis='x', which='both', length=0, colors=TXT, labelsize=5.3, pad=4)
ax.tick_params(axis='y', which='both', length=0, colors=TXT, labelsize=5.0, pad=6)
ax2.tick_params(axis='y', which='both', direction='in', length=3, width=0.6,
                color=SPINE, labelcolor=TXT, labelsize=5.0, pad=4)
ax2.tick_params(axis='x', length=0)
for a in (ax, ax2):
    for s in a.spines.values():
        s.set_color(SPINE)
        s.set_linewidth(0.9)

# labels & texts
fig.text(fx(307.5), fy(8.5), title, ha='center', va='center', fontsize=8.1,
         fontweight='bold', color='white')
fig.text(fx(92.7), fy(209), "850 hPa Temp. (°C)", rotation=90, ha='center', va='center',
         fontsize=5.3, color=TXT)
fig.text(fx(591.7), fy(209), "Niederschlag (mm)", rotation=90, ha='center', va='center',
         fontsize=4.7, color=TXT)
fig.text(fx(343), fy(415.7), "Date (UTC)", ha='center', va='center', fontsize=5.3, color=TXT)
fig.text(fx(85), fy(422.7), "ECMWF Ensemble, 45.75N, 15.25E", ha='left', va='center',
         fontsize=8.1, color=TXT)
fig.text(fx(459), fy(422.7), "Wetterzentrale.de", ha='left', va='center',
         fontsize=8.0, color=TXT)

# manual legend at the left
def legend_item(x_line0, x_line1, x_text, y, color, label, lw=1.0):
    fig.add_artist(Line2D([fx(x_line0), fx(x_line1)], [fy(y), fy(y)], color=color, lw=lw,
                          transform=fig.transFigure))
    fig.text(fx(x_text), fy(y), label, ha='left', va='center', fontsize=5.3, color=TXT)

row0, drow = 27.7, 10.6
for i in range(50):
    r = i // 2
    y = row0 + r * drow
    if i % 2 == 0:
        legend_item(-2, 5.5, 6, y, member_colors[i], member_names[i])
    else:
        legend_item(37, 45, 45.5, y, member_colors[i], member_names[i])
y_ctrl = row0 + 25 * drow
legend_item(-2, 5.5, 6, y_ctrl, C_CONTROL, "Control", lw=1.2)
legend_item(37, 45, 45.5, y_ctrl, C_MEAN, "Ens. mean", lw=1.2)
legend_item(37, 45, 45.5, 312.7, C_CLIM, "1991-2020", lw=1.2)
fig.text(fx(45.5), fy(320.0), "mean", ha='left', va='center', fontsize=5.3, color=TXT)
legend_item(-2, 5.5, 6, 322.3, C_OPER, "Oper", lw=1.2)

fig.savefig("out.png", dpi=100, facecolor=BG)
